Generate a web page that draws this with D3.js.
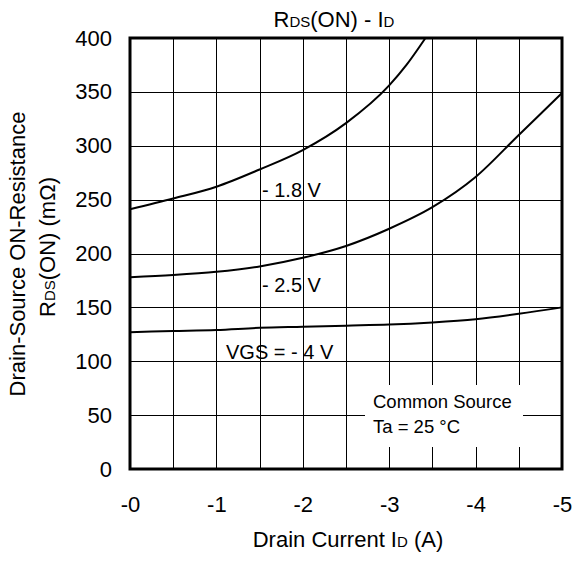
<!DOCTYPE html>
<html>
<head>
<meta charset="utf-8">
<script src="https://cdn.jsdelivr.net/npm/d3@7/dist/d3.min.js"></script>
<style>
  html, body { margin: 0; padding: 0; background: #fff; }
  svg { display: block; font-family: "Liberation Sans", Arial, sans-serif; }
</style>
</head>
<body>
<svg id="chart" width="574" height="561"></svg>
<script>
// ---- data ----
const idA = [-0, -0.5, -1, -1.5, -2, -2.5, -3, -3.5, -4, -4.5, -5];
const id18 = [-0, -0.5, -1, -1.5, -2, -2.5, -3, -3.2, -3.42];
const r18 = [241, 251, 262, 278, 296, 321, 356, 375, 400];
const r25 = [178, 180, 183, 188, 196, 207, 223, 243, 271, 310, 349];
const r40 = [127, 128, 129, 131, 132, 133, 134, 136, 139, 144, 150];
const xTicks = [0, -1, -2, -3, -4, -5];
const xTickLabels = ["-0", "-1", "-2", "-3", "-4", "-5"];
const xGrid = [-0.5, -1, -1.5, -2, -2.5, -3, -3.5, -4, -4.5];
const yTicks = [0, 50, 100, 150, 200, 250, 300, 350, 400];
const yGrid = [50, 100, 150, 200, 250, 300, 350];

const series = [
  { name: "-1.8", x: id18, y: r18 },
  { name: "-2.5", x: idA, y: r25 },
  { name: "-4", x: idA, y: r40 }
];

// ---- layout ----
const L = 130, R = 562, T = 38, B = 469;
const svg = d3.select("#chart");
const x = d3.scaleLinear().domain([0, -5]).range([L, R]);
const y = d3.scaleLinear().domain([0, 400]).range([B, T]);

// gridlines
svg.append("g").attr("transform", `translate(0,${B})`)
  .call(d3.axisBottom(x).tickValues(xGrid).tickSize(-(B - T)).tickFormat(""))
  .call(g => g.select(".domain").remove())
  .call(g => g.selectAll("line").attr("stroke", "#000").attr("shape-rendering", "crispEdges"));
svg.append("g").attr("transform", `translate(${L},0)`)
  .call(d3.axisLeft(y).tickValues(yGrid).tickSize(-(R - L)).tickFormat(""))
  .call(g => g.select(".domain").remove())
  .call(g => g.selectAll("line").attr("stroke", "#000").attr("shape-rendering", "crispEdges"));

// white box behind "Common Source"
svg.append("rect").attr("x", 365).attr("y", 385).attr("width", 158).attr("height", 62).attr("fill", "#fff");

// curves
const line = d3.line().curve(d3.curveMonotoneX);
series.forEach(s => {
  const pts = s.x.map((v, i) => [x(v), y(s.y[i])]);
  svg.append("path").attr("d", line(pts))
    .attr("fill", "none").attr("stroke", "#000").attr("stroke-width", 2);
});

// frame
svg.append("rect").attr("x", L).attr("y", T).attr("width", R - L).attr("height", B - T)
  .attr("fill", "none").attr("stroke", "#000").attr("stroke-width", 3);

// axis labels
const yAx = svg.append("g").attr("transform", `translate(${L},0)`)
  .call(d3.axisLeft(y).tickValues(yTicks).tickSize(0).tickPadding(18));
yAx.select(".domain").remove();
yAx.selectAll("text").attr("font-size", 22).attr("font-family", "Liberation Sans, Arial, sans-serif").attr("fill", "#000");

const xAx = svg.append("g").attr("transform", `translate(0,${B})`)
  .call(d3.axisBottom(x).tickValues(xTicks).tickSize(0).tickPadding(27)
    .tickFormat((d, i) => xTickLabels[i]));
xAx.select(".domain").remove();
xAx.selectAll("text").attr("font-size", 22).attr("font-family", "Liberation Sans, Arial, sans-serif").attr("fill", "#000");

// title
const title = svg.append("text").attr("x", 334).attr("y", 27).attr("text-anchor", "middle")
  .attr("font-size", 22).attr("fill", "#000");
title.append("tspan").text("R");
title.append("tspan").attr("font-size", 15).text("DS");
title.append("tspan").text("(ON) - I");
title.append("tspan").attr("font-size", 15).text("D");

// x title
const xt = svg.append("text").attr("x", 348).attr("y", 547).attr("text-anchor", "middle")
  .attr("font-size", 22).attr("fill", "#000");
xt.append("tspan").text("Drain Current I");
xt.append("tspan").attr("font-size", 15).text("D");
xt.append("tspan").text(" (A)");

// y titles
svg.append("text").attr("transform", "translate(25,254) rotate(-90)").attr("text-anchor", "middle")
  .attr("font-size", 22).attr("fill", "#000").text("Drain-Source ON-Resistance");
const yt2 = svg.append("text").attr("transform", "translate(55,247) rotate(-90)").attr("text-anchor", "middle")
  .attr("font-size", 22).attr("fill", "#000");
yt2.append("tspan").text("R");
yt2.append("tspan").attr("font-size", 15).text("DS");
yt2.append("tspan").text("(ON) (mΩ)");

// annotations
const ann = [
  { t: "- 1.8 V", x: 262, y: 197 },
  { t: "- 2.5 V", x: 262, y: 292 },
  { t: "VGS = - 4 V", x: 226, y: 359 }
];
ann.forEach(a => svg.append("text").attr("x", a.x).attr("y", a.y).attr("font-size", 20).attr("fill", "#000").text(a.t));
svg.append("text").attr("x", 373).attr("y", 408).attr("font-size", 18.5).attr("fill", "#000").text("Common Source");
svg.append("text").attr("x", 373).attr("y", 433).attr("font-size", 18.5).attr("fill", "#000").text("Ta = 25 °C");
</script>
</body>
</html>
